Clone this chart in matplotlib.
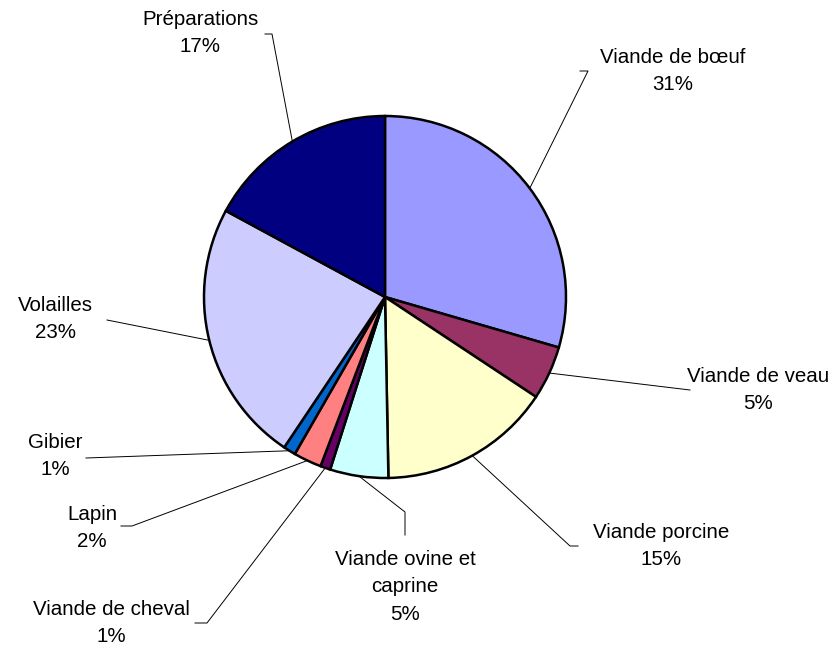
import numpy as np
import matplotlib.pyplot as plt

plt.rcParams['font.family'] = ['Liberation Sans', 'DejaVu Sans']

categories = ['Viande de bœuf', 'Viande de veau', 'Viande porcine',
              'Viande ovine et\ncaprine', 'Viande de cheval', 'Lapin',
              'Gibier', 'Volailles', 'Préparations']
values = [29.5, 4.8, 15.4, 5.2, 0.9, 2.5, 1.1, 23.5, 17.1]
pct_labels = ['31%', '5%', '15%', '5%', '1%', '2%', '1%', '23%', '17%']
colors = ['#9999FF', '#993366', '#FFFFCC', '#CCFFFF', '#660066',
          '#FF8080', '#0066CC', '#CCCCFF', '#000080']

W, H = 838, 650
cx, cy, r = 385, H - 297, 181

# label text centre (pixel coords, y from top) and leader line path ends
text_pos = [(673, 71), (758, 390), (661, 546), (405, 587), (111, 623),
            (92, 528), (55, 456), (55, 319), (200, 33)]
elbows = [[(580, 71), (588, 71)], [(690, 390)], [(578, 546), (570, 546)],
          [(405, 535), (405, 512)], [(195, 623), (207, 623)],
          [(121, 526), (132, 526)], [(86, 458)], [(107, 320)],
          [(265, 34), (272, 34)]]

fig = plt.figure(figsize=(W / 100, H / 100), dpi=100)
ax = fig.add_axes([0, 0, 1, 1])

wedges, _ = ax.pie(values, colors=colors, startangle=90, counterclock=False,
                   center=(cx, cy), radius=r,
                   wedgeprops=dict(edgecolor='black', linewidth=1.8))

ax.set_xlim(0, W)
ax.set_ylim(0, H)
ax.set_aspect('equal')
ax.axis('off')

for w, name, pct, tp, elb in zip(wedges, categories, pct_labels, text_pos, elbows):
    ang = np.deg2rad((w.theta1 + w.theta2) / 2)
    ex, ey = cx + r * np.cos(ang), cy + r * np.sin(ang)
    pts = [(ex, ey)] + [(x, H - y) for x, y in reversed(elb)]
    xs, ys = zip(*pts)
    ax.plot(xs, ys, color='black', lw=0.7)
    ax.text(tp[0], H - tp[1], name + '\n' + pct, ha='center', va='center',
            fontsize=14.8, linespacing=1.58)

plt.savefig('out.png', dpi=100)
